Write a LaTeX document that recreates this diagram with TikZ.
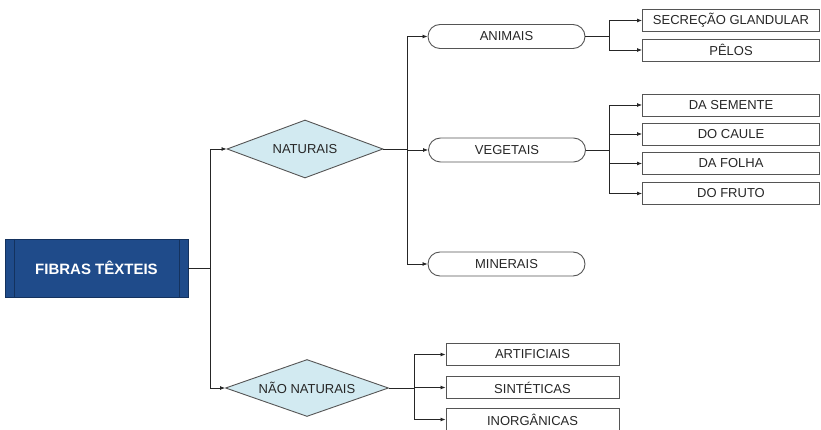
\documentclass[tikz,border=0pt]{standalone}
\usepackage{fontspec}
\setmainfont{Liberation Sans}
\usepackage{xcolor}
\usepackage{tikz}
\usetikzlibrary{arrows.meta}
\usetikzlibrary{shapes.geometric}

\definecolor{fibrablue}{HTML}{1F4B8A}
\definecolor{fibradark}{HTML}{14325E}
\definecolor{naturalfill}{HTML}{D2EAF1}
\definecolor{edgegray}{HTML}{555555}

\tikzset{
    txt/.style={font=\fontsize{13}{15}\selectfont, text=black!85},
    mainbox/.style={rectangle, draw=fibradark, fill=fibrablue, minimum width=183pt, minimum height=58pt,
        inner sep=0pt, text=white, font=\fontsize{15}{17}\selectfont\bfseries},
    kind/.style={txt, diamond, draw=edgegray, line width=0.9pt, fill=naturalfill, aspect=2.7, inner sep=0pt},
    group/.style={txt, rectangle, rounded corners=12pt, draw=edgegray, line width=0.9pt, minimum width=157pt, minimum height=24pt, inner sep=0pt},
    leaf/.style={txt, rectangle, draw=edgegray, line width=0.9pt, minimum height=22pt, inner sep=0pt},
    conn/.style={draw=black!85, line width=0.8pt, -{Latex[length=5pt,width=4pt]}}
}

\begin{document}
\begin{tikzpicture}[x=1pt, y=-1pt]
            \clip (0,0) rectangle (821,430);
            \node[mainbox] (fibras) at (96.5,268) {FIBRAS TÊXTEIS};
            \draw[fibradark, line width=1pt] ([xshift=10pt]fibras.north west) -- ([xshift=10pt]fibras.south west)
                    ([xshift=-9pt]fibras.north east) -- ([xshift=-9pt]fibras.south east);

            \node[kind, minimum width=156pt, minimum height=58pt] (nat) at (305,149) {NATURAIS};
            \node[kind, minimum width=163pt, minimum height=57pt] (naonat) at (307,388) {NÃO NATURAIS};

            \node[group] (animais) at (506.5,36.5) {ANIMAIS};
            \node[group] (vegetais) at (507,150) {VEGETAIS};
            \node[group] (minerais) at (506.5,264) {MINERAIS};

            \node[leaf, minimum width=177pt] (secrecao) at (731,20.5) {SECREÇÃO GLANDULAR};
            \node[leaf, minimum width=177pt] (pelos) at (731,50) {PÊLOS};
            \node[leaf, minimum width=177pt] (semente) at (731,105) {DA SEMENTE};
            \node[leaf, minimum width=177pt] (caule) at (731,134) {DO CAULE};
            \node[leaf, minimum width=177pt] (folha) at (731,163.5) {DA FOLHA};
            \node[leaf, minimum width=177pt] (fruto) at (731,193.5) {DO FRUTO};

            \node[leaf, minimum width=173pt] (artificiais) at (532.5,354.5) {ARTIFICIAIS};
            \node[leaf, minimum width=173pt] (sinteticas) at (532.5,387.5) {SINTÉTICAS};
            \node[leaf, minimum width=173pt] (inorganicas) at (532.5,419.5) {INORGÂNICAS};

            \draw[conn] (fibras.east) -- ++(22,0) |- (nat.west);
            \draw[conn] (fibras.east) -- ++(22,0) |- (naonat.west);

            \foreach \g in {animais, vegetais, minerais}
                \draw[conn] (nat.east) -- ++(24,0) |- (\g.west);
            \foreach \l in {secrecao, pelos}
                \draw[conn] (animais.east) -- ++(24,0) |- (\l.west);
            \foreach \l in {semente, caule, folha, fruto}
                \draw[conn] (vegetais.east) -- ++(23,0) |- (\l.west);
            \foreach \l in {artificiais, sinteticas, inorganicas}
                \draw[conn] (naonat.east) -- ++(25,0) |- (\l.west);
        \end{tikzpicture}
\end{document}
